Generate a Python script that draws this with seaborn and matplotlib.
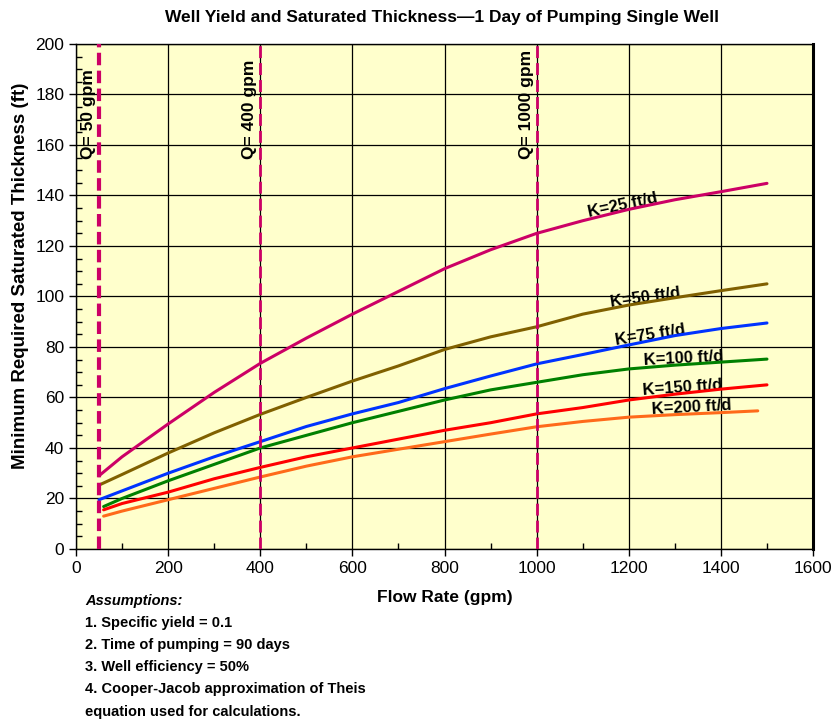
import numpy as np
import pandas as pd
import matplotlib
matplotlib.use("Agg")
import matplotlib.pyplot as plt
import seaborn as sns
from matplotlib.ticker import MultipleLocator

# flow rate (gpm) for each curve
q_a = [50, 100, 200, 300, 400, 500, 600, 700, 800, 900, 1000, 1100, 1200, 1300, 1400, 1500]
q_b = [60, 100, 200, 300, 400, 500, 600, 700, 800, 900, 1000, 1100, 1200, 1300, 1400, 1500]
q_c = [60, 100, 200, 300, 400, 500, 600, 700, 800, 900, 1000, 1100, 1200, 1300, 1400, 1480]

# minimum required saturated thickness (ft)
k25 = [29, 36.5, 49.5, 62, 73.5, 83.5, 93, 102, 111, 118.5, 125, 130, 134.5, 138.3, 141.5, 144.8]
k50 = [25.3, 29.5, 38, 46, 53.3, 60, 66.5, 72.5, 79, 84, 88, 93, 96.6, 99.5, 102.3, 105]
k75 = [19.5, 23, 30, 36.5, 42.5, 48.5, 53.5, 58, 63.5, 68.5, 73.3, 77, 80.8, 84.5, 87.3, 89.5]
k100 = [16.8, 20, 27, 33.5, 40, 45, 50, 54.5, 59, 63, 66, 69, 71.3, 72.8, 74, 75.2]
k150 = [15.5, 18, 22.5, 27.8, 32.3, 36.5, 40, 43.5, 47, 50, 53.5, 56, 59, 61.3, 63.3, 65]
k200 = [13, 15, 19.5, 24, 28.5, 32.8, 36.5, 39.5, 42.5, 45.5, 48.4, 50.5, 52.2, 53.2, 54, 54.7]

q_marks = [50, 400, 1000]
q_labels = ["Q= 50 gpm", "Q= 400 gpm", "Q= 1000 gpm"]

k_labels = ["K=25 ft/d", "K=50 ft/d", "K=75 ft/d", "K=100 ft/d", "K=150 ft/d", "K=200 ft/d"]
label_x = [1186, 1235, 1246, 1318, 1316, 1337]
label_y = [136.2, 99.4, 84.7, 75.6, 63.8, 56.2]
label_rot = [12, 8, 9, 3, 4, 3]

sns.set_style("white")
plt.rcParams['font.family'] = ['Liberation Sans', 'DejaVu Sans']
plt.rcParams['text.color'] = 'black'
plt.rcParams['axes.labelcolor'] = 'black'
plt.rcParams['xtick.color'] = 'black'
plt.rcParams['ytick.color'] = 'black'

fig = plt.figure(figsize=(8.35, 7.21), dpi=100)
ax = fig.add_axes([0.091, 0.2386, 0.8827, 0.7004])
ax.set_facecolor("#FFFFCC")

series = [
    (q_a, k25, "#CC0066"),
    (q_a, k50, "#806000"),
    (q_a, k75, "#0033FF"),
    (q_b, k100, "#008000"),
    (q_b, k150, "#FF0000"),
    (q_c, k200, "#FF6A1A"),
]
for xs, ys, col in series:
    df = pd.DataFrame({"q": xs, "b": ys})
    sns.lineplot(data=df, x="q", y="b", color=col, linewidth=2.2, ax=ax, zorder=4)

# pumping rate markers
for i, (qm, ql) in enumerate(zip(q_marks, q_labels)):
    ax.axvline(qm, color="#CC0066", linestyle=(0, (3, 1.3)) if i == 0 else (0, (4.3, 1.8)),
               linewidth=3 if i == 0 else 2, zorder=5)
    ax.annotate(ql, xy=(qm, 154.5), xytext=(-2, 0), textcoords="offset points",
                rotation=90, ha="right", va="bottom", fontsize=12.5, fontweight="bold")

# curve labels sit under the lines
for txt, lx, ly, r in zip(k_labels, label_x, label_y, label_rot):
    ax.text(lx, ly, txt, rotation=r, ha="center", va="center", fontsize=12,
            fontweight="bold", zorder=3)

ax.set_xlim(0, 1600)
ax.set_ylim(0, 200)
ax.xaxis.set_major_locator(MultipleLocator(200))
ax.yaxis.set_major_locator(MultipleLocator(20))
ax.xaxis.set_minor_locator(MultipleLocator(100))
ax.yaxis.set_minor_locator(MultipleLocator(5))
ax.grid(True, which="major", color="black", linewidth=0.9, zorder=1)
ax.set_axisbelow(True)
ax.tick_params(which="major", direction="out", length=5, width=1, labelsize=12.5,
               bottom=True, left=True)
ax.tick_params(which="minor", direction="in", length=4, width=1, bottom=True, left=True)
for s in ax.spines.values():
    s.set_color("black")
    s.set_linewidth(1)
ax.spines["right"].set_linewidth(2.2)

ax.set_xlabel("Flow Rate (gpm)", fontsize=12.5, fontweight="bold", labelpad=10)
ax.set_ylabel("Minimum Required Saturated Thickness (ft)", fontsize=13.5,
              fontweight="bold")
ax.yaxis.set_label_coords(-0.064, 0.54)
fig.text(442 / 835, 0.976, "Well Yield and Saturated Thickness\u20141 Day of Pumping Single Well",
         ha="center", va="center", fontsize=12.5, fontweight="bold")

notes = ["1. Specific yield = 0.1", "2. Time of pumping = 90 days",
         "3. Well efficiency = 50%", "4. Cooper-Jacob approximation of Theis",
         "equation used for calculations."]
fig.text(85 / 835, 1 - 601 / 721, "Assumptions:", fontsize=10.5, fontweight="bold",
         fontstyle="italic", va="center")
for i, n in enumerate(notes):
    fig.text(85 / 835, 1 - (622.5 + i * 22.3) / 721, n, fontsize=10.5,
             fontweight="bold", va="center")

fig.savefig("out.png", dpi=100)
